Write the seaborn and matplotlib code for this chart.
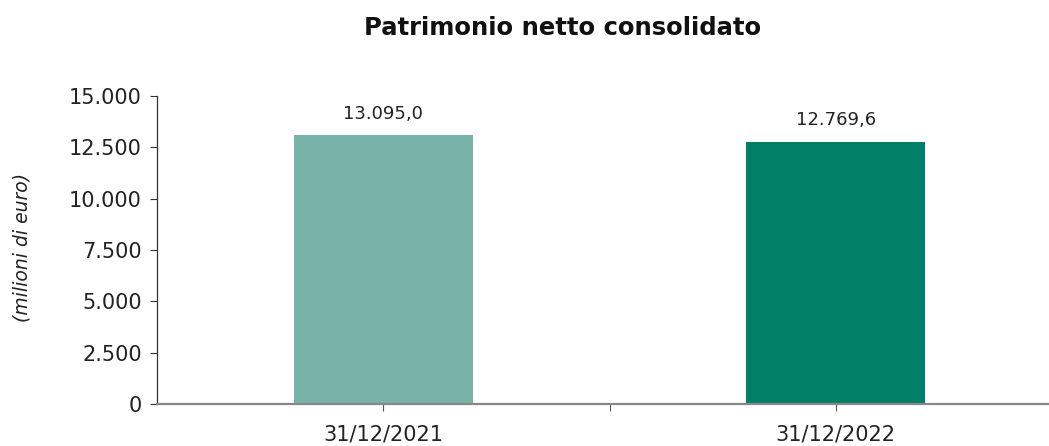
import matplotlib
matplotlib.use("Agg")
import matplotlib.pyplot as plt
import seaborn as sns
import pandas as pd
from matplotlib.ticker import FixedLocator, FuncFormatter

# data
dates = ["31/12/2021", "31/12/2022"]
values = [13095.0, 12769.6]
bar_colors = ["#77B3A8", "#008066"]
y_ticks = [0, 2500, 5000, 7500, 10000, 12500, 15000]

def it_fmt(v, decimals=0):
    s = f"{v:,.{decimals}f}"
    return s.replace(",", "X").replace(".", ",").replace("X", ".")

sns.set_style("white")
plt.rcParams["font.family"] = ["DejaVu Sans"]

df = pd.DataFrame({"data": dates, "valore": values})

fig = plt.figure(figsize=(10.49, 4.46), dpi=100)
ax = fig.add_axes([157/1049, 42/446, 905/1049, 308/446])

sns.barplot(data=df, x="data", y="valore", hue="data", palette=dict(zip(dates, bar_colors)),
            width=0.395, legend=False, ax=ax, saturation=1, linewidth=0)

ax.set_xlim(-0.5, 1.5)
ax.set_ylim(0, 15000)
ax.set_yticks(y_ticks)
ax.yaxis.set_major_formatter(FuncFormatter(lambda v, p: it_fmt(v)))
ax.xaxis.set_minor_locator(FixedLocator([0.5]))

ax.tick_params(axis="y", direction="out", length=5, width=0.8, color="#333333",
               labelsize=15, labelcolor="#222222", pad=6, left=True)
ax.tick_params(axis="x", which="both", direction="out", length=5, width=0.8, color="#555555",
               labelsize=15, labelcolor="#222222", pad=10, bottom=True)

for side in ["top", "right"]:
    ax.spines[side].set_visible(False)
ax.spines["left"].set_color("#333333")
ax.spines["left"].set_linewidth(0.9)
ax.spines["bottom"].set_color("#888888")
ax.spines["bottom"].set_linewidth(1.6)

ax.set_xlabel("")
ax.set_ylabel("")

for cont in ax.containers:
    ax.bar_label(cont, labels=[it_fmt(v.get_height(), 1) for v in cont], padding=9,
                 fontsize=13, color="#222222")

fig.text(22/1049, (446-247)/446, "(milioni di euro)", rotation=90, ha="center", va="center",
         fontsize=13.5, fontstyle="italic", color="#222222")
fig.suptitle("Patrimonio netto consolidato", x=563/1049, y=1-28/446, ha="center", va="center",
             fontsize=17.5, fontweight="bold", color="#111111")

fig.savefig("out.png", dpi=100)
